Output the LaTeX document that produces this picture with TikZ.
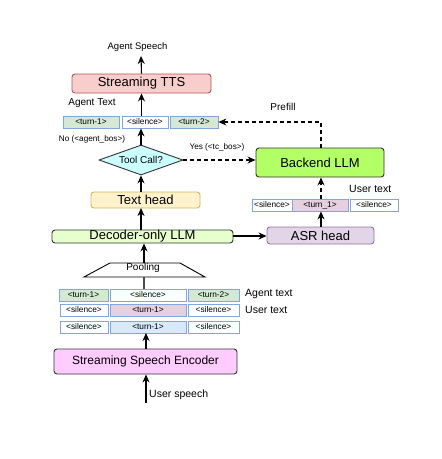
\documentclass[tikz,border=0pt]{standalone}
\usepackage{fontspec}
\setmainfont{Liberation Sans}
\usetikzlibrary{arrows.meta,shapes.geometric,calc}
\definecolor{ttsf}{HTML}{F8CECC}\definecolor{ttsd}{HTML}{B85450}
\definecolor{tokb}{HTML}{7EA6E0}
\definecolor{tokg}{HTML}{D5E8D4}
\definecolor{tokp}{HTML}{E6D0DE}
\definecolor{tokbl}{HTML}{DAE8FC}
\definecolor{diaf}{HTML}{CCFFFF}
\definecolor{backf}{HTML}{B3FF66}
\definecolor{thf}{HTML}{FFF2CC}\definecolor{thd}{HTML}{D6B656}
\definecolor{decf}{HTML}{E6FFCC}
\definecolor{asrf}{HTML}{E1D5E7}\definecolor{asrd}{HTML}{9673A6}
\definecolor{encf}{HTML}{FFCCFF}
\definecolor{dk}{HTML}{333333}
\tikzset{
  blk/.style={draw=dk, line width=0.9pt, rounded corners=3pt, inner sep=0pt, font=\fontsize{13}{15}\selectfont},
  tok/.style={draw=tokb, line width=0.8pt, fill=white, inner sep=0pt, font=\fontsize{8.3}{10}\selectfont},
  lbl/.style={inner sep=0pt, font=\fontsize{10.5}{12}\selectfont},
  sml/.style={inner sep=0pt, font=\fontsize{8.2}{10}\selectfont},
  arr/.style={-{Stealth[length=8pt,width=7pt]}, line width=1.1pt, black},
  darr/.style={arr, dashed, dash pattern=on 4pt off 3pt},
}
\newcommand{\boxat}[6]{% name, x1,y1,x2,y2, style+text
  \node[#6, minimum width=#4-#2, minimum height=#5-#3] (#1) at ({(#2+#4)/2},{(#3+#5)/2})}
\begin{document}
\begin{tikzpicture}[x=1pt,y=-1pt]
\useasboundingbox (0,0) rectangle (442,459);

% top
\node[lbl, font=\fontsize{9.5}{11}\selectfont] (as) at (137.5,47) {Agent Speech};
\boxat{tts}{72}{74}{211}{93}{blk, draw=ttsd, fill=ttsf}{Streaming TTS};
\node[lbl, font=\fontsize{10}{12}\selectfont] (at) at (92,103) {Agent Text};
\boxat{a1}{63}{116}{119}{128}{tok, fill=tokg}{<turn-1>};
\boxat{a2}{122}{116}{168}{128}{tok}{<silence>};
\boxat{a3}{170}{116}{218}{128}{tok, fill=tokg}{<turn-2>};
\node[sml] (no) at (92,139) {No (<agent\_bos>)};
\node[diamond, draw=dk, fill=diaf, line width=0.9pt, minimum width=84pt, minimum height=30pt, aspect=2.8, inner sep=0pt, font=\fontsize{10}{12}\selectfont] (dia) at (141,160) {};
\node[inner sep=0pt, font=\fontsize{10}{12}\selectfont] (diat) at (141,160) {Tool Call?};
\node[sml] (yes) at (217,147) {Yes (<tc\_bos>)};
\boxat{back}{256}{148}{384}{177}{blk, fill=backf}{Backend LLM};
\node[lbl, font=\fontsize{10}{12}\selectfont] (pre) at (283,107) {Prefill};

\boxat{b1}{252}{199}{292}{211}{tok}{<silence>};
\boxat{b2}{292}{199}{348}{211}{tok, fill=tokp}{<turn\_1>};
\boxat{b3}{350}{199}{398}{211}{tok}{<silence>};
\node[lbl, anchor=west] (ut2) at (349,189) {User text};
\boxat{asr}{267}{227}{374}{244}{blk, draw=asrd, fill=asrf}{ASR head};

\boxat{th}{91}{192}{200}{208}{blk, draw=thd, fill=thf}{Text head};
\boxat{dec}{52}{230}{233}{243}{blk, fill=decf}{Decoder-only LLM};

% pooling
\coordinate (pl) at (144,277);
\coordinate (pt) at (144,263);
\draw[line width=0.9pt, fill=white] (84,277) -- (110,263) -- (180,263) -- (205,277) -- cycle;
\node[inner sep=0pt, font=\fontsize{10}{12}\selectfont] (pool) at (143,268) {Pooling};

% token rows
\boxat{r11}{59}{289}{108}{301}{tok, fill=tokg}{<turn-1>};
\boxat{r12}{110}{289}{186}{301}{tok}{<silence>};
\boxat{r13}{188}{289}{239}{301}{tok, fill=tokg}{<turn-2>};
\boxat{r21}{60}{304}{108}{316}{tok}{<silence>};
\boxat{r22}{110}{304}{186}{316}{tok, fill=tokp}{<turn-1>};
\boxat{r23}{188}{304}{239}{316}{tok}{<silence>};
\boxat{r31}{60}{321}{108}{333}{tok}{<silence>};
\boxat{r32}{110}{321}{186}{333}{tok, fill=tokbl}{<turn-1>};
\boxat{r33}{188}{321}{239}{333}{tok}{<silence>};
\node[lbl, anchor=west] (agt) at (245,294) {Agent text};
\node[lbl, anchor=west] (ust) at (245,310) {User text};

\boxat{enc}{54}{349}{237}{374}{blk, fill=encf, font=\fontsize{12}{14}\selectfont}{Streaming Speech Encoder};
\coordinate (src) at (146,403);
\node[lbl, anchor=west] (us) at (149,395) {User speech};

% connectors
\draw[arr] (src) -- (src |- enc.south);
\draw[arr] (146,349) -- (146,333);
\draw[line width=1.1pt, black!70] (r12.north -| pl) -- (pl);
\draw[arr] (pt) -- (pt |- dec.south);
\draw[arr] (141,230) -- (141,208);
\draw[arr] (th.north -| dia.south) -- (dia.south);
\draw[arr] (dia.north) -- (dia.north |- a2.south);
\draw[arr] (a2.north -| tts.south) -- (tts.south);
\draw[arr] (tts.north) -- (141,56);
\draw[darr] (dia.east) -- (dia.east -| back.west);
\draw[darr] (321,148) |- (a3.east);
\draw[arr] (dec.east |- 0,236) -- (asr.west |- 0,236);
\draw[arr] (asr.north -| 321,0) -- (b2.south -| 321,0);
\draw[darr] (b2.north -| 321,0) -- (back.south -| 321,0);
\end{tikzpicture}
\end{document}
